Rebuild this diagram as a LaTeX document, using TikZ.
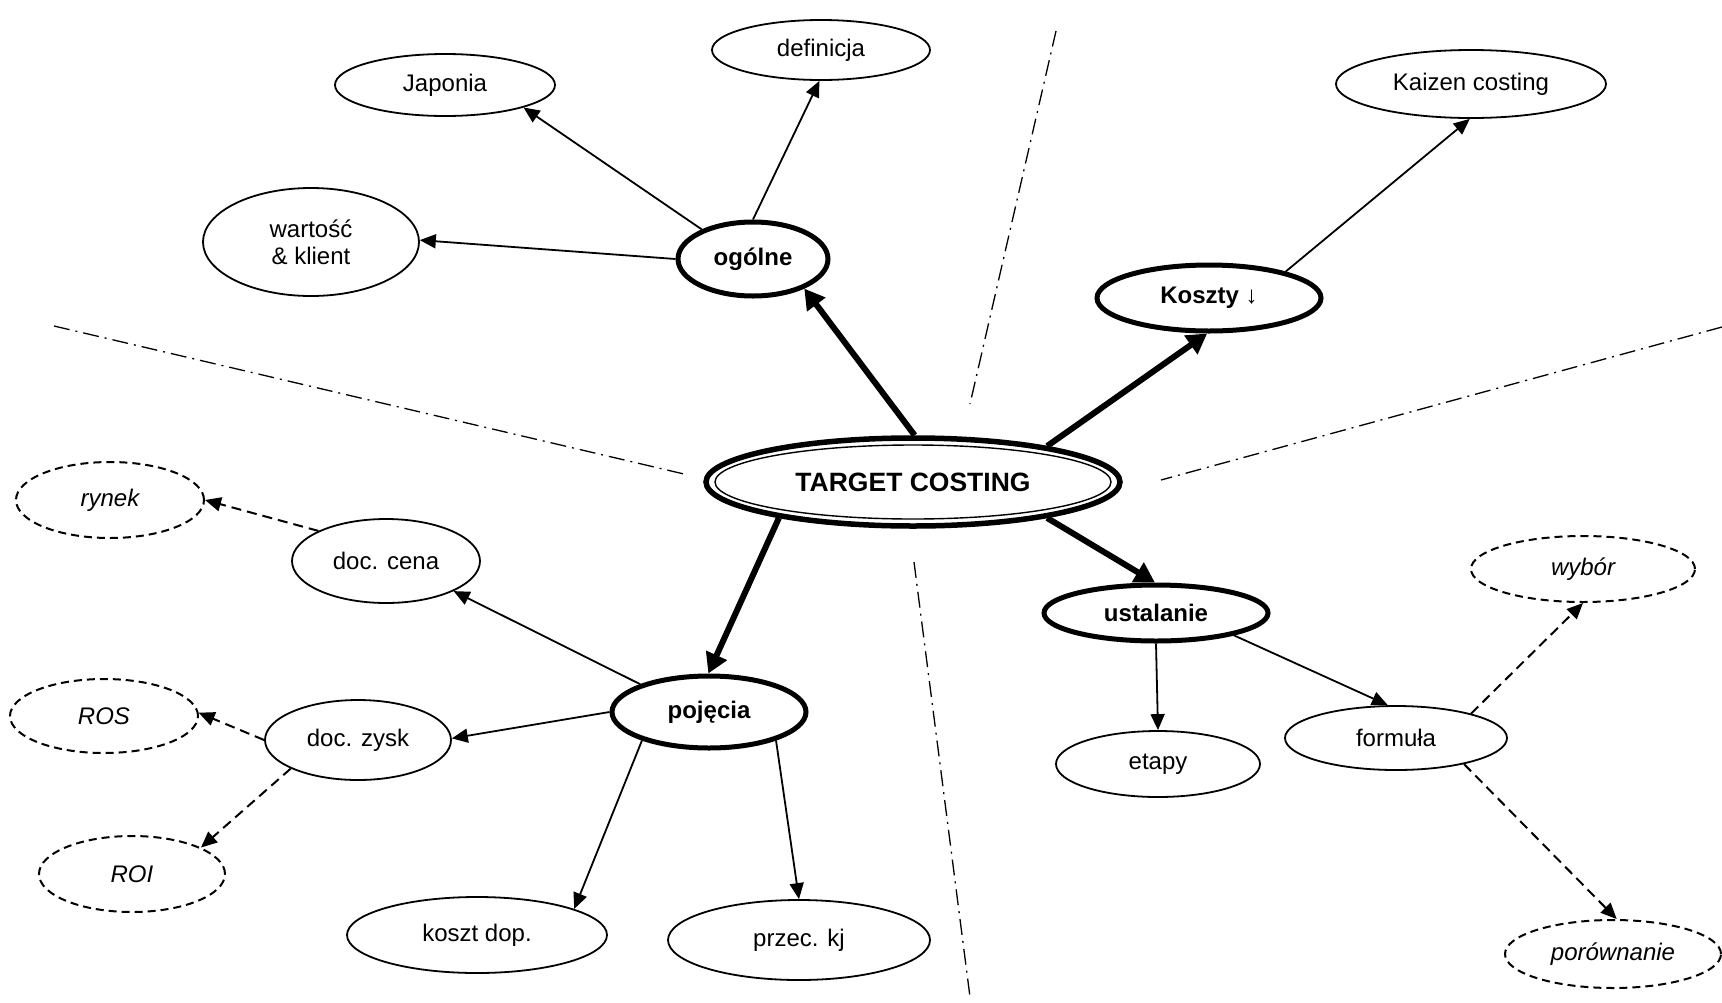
\documentclass[tikz,border=0pt]{standalone}
\usepackage{fontspec}
\setmainfont{Liberation Sans}
\usetikzlibrary{shapes.geometric,arrows.meta}

\begin{document}
\begin{tikzpicture}[x=1pt,y=-1pt]
  \tikzstyle{every node}=[ellipse,draw,inner sep=0pt,line width=1.8pt,font=\fontsize{24}{27}\selectfont]
  \tikzstyle{topic}=[line width=5pt,font=\fontsize{24}{27}\selectfont\bfseries]
  \tikzstyle{hint}=[dash pattern=on 8pt off 5pt,line width=2pt,font=\fontsize{24}{27}\selectfont\itshape]
  \tikzstyle{link}=[line width=1.8pt,-{Triangle[length=16pt,width=14pt]}]
  \tikzstyle{mainlink}=[line width=6pt,-{Triangle[length=20pt,width=22pt]}]
  \tikzstyle{hintlink}=[link,dash pattern=on 10pt off 6pt,line width=2pt]
  \tikzstyle{sep}=[line width=1.3pt,dash pattern=on 16pt off 6pt on 2pt off 6pt]
  \useasboundingbox (0,0) rectangle (1722,1002);

  \draw[sep] (54,326) -- (684,474);
  \draw[sep] (1056,31) -- (970,404);
  \draw[sep] (1722,327) -- (1161,480);
  \draw[sep] (914,562) -- (970,997);

  \node[line width=5.5pt,minimum width=414,minimum height=88,font=\fontsize{26.5}{30}\selectfont\bfseries] (tc) at (913,482) {TARGET COSTING};
  \draw[line width=1.4pt] (tc.center) ellipse [x radius=198, y radius=37];

  \node[topic,minimum width=150,minimum height=74] (og) at (753,259) {ogólne};
  \node[topic,minimum width=224,minimum height=66] (ko) at (1209,298) {Koszty {\mdseries ↓}};
  \node[topic,minimum width=224,minimum height=56] (us) at (1156,613) {ustalanie};
  \node[topic,minimum width=194,minimum height=72] (po) at (709,712) {pojęcia};

  \node[minimum width=220,minimum height=62] (ja) at (445,85) {Japonia};
  \node[minimum width=218,minimum height=60] (de) at (821,50) {definicja};
  \node[minimum width=216,minimum height=108,align=center] (wk) at (311,242) {wartość\\\& klient};
  \node[minimum width=270,minimum height=68] (kc) at (1471,84) {Kaizen costing};
  \node[minimum width=188,minimum height=84] (dc) at (386,561) {doc. cena};
  \node[minimum width=186,minimum height=80] (dz) at (358,740) {doc. zysk};
  \node[minimum width=260,minimum height=76] (kd) at (477,935) {koszt dop.};
  \node[minimum width=262,minimum height=80] (pk) at (799,940) {przec. kj};
  \node[minimum width=204,minimum height=66] (et) at (1158,764) {etapy};
  \node[minimum width=222,minimum height=64] (fo) at (1396,738) {formuła};

  \node[hint,minimum width=188,minimum height=76] (ry) at (110,500) {rynek};
  \node[hint,minimum width=188,minimum height=74] (ros) at (104,716) {ROS};
  \node[hint,minimum width=186,minimum height=76] (roi) at (132,874) {ROI};
  \node[hint,minimum width=224,minimum height=66] (wy) at (1583,569) {wybór};
  \node[hint,minimum width=216,minimum height=68] (pr) at (1613,954) {porównanie};

  \draw[mainlink] (tc.88) -- (og.-30);
  \draw[mainlink] (tc.15) -- (ko.-93);
  \draw[mainlink] (tc.-15) -- (us.92);
  \draw[mainlink] (tc.195) -- (po.91);

  \draw[link] (og.150) -- (ja.-16);
  \draw[link] (og.90) -- (de.-93);
  \draw[link] (og.180) -- (wk.1);
  \draw[link] (ko.19) -- (kc.-92);
  \draw[link] (po.158) -- (dc.-24);
  \draw[link] (po.180) -- (dz.1);
  \draw[link] (po.203) -- (kd.15);
  \draw[link] (po.-23) -- (pk.90);
  \draw[link] (us.-90) -- (et.90);
  \draw[link] (us.-16) -- (fo.104);

  \draw[hintlink] (dc.156) -- (ry.0);
  \draw[hintlink] (dz.180) -- (ros.2);
  \draw[hintlink] (dz.203) -- (roi.21);
  \draw[hintlink] (fo.18) -- (wy.-90);
  \draw[hintlink] (fo.-21) -- (pr.84);
\end{tikzpicture}
\end{document}
